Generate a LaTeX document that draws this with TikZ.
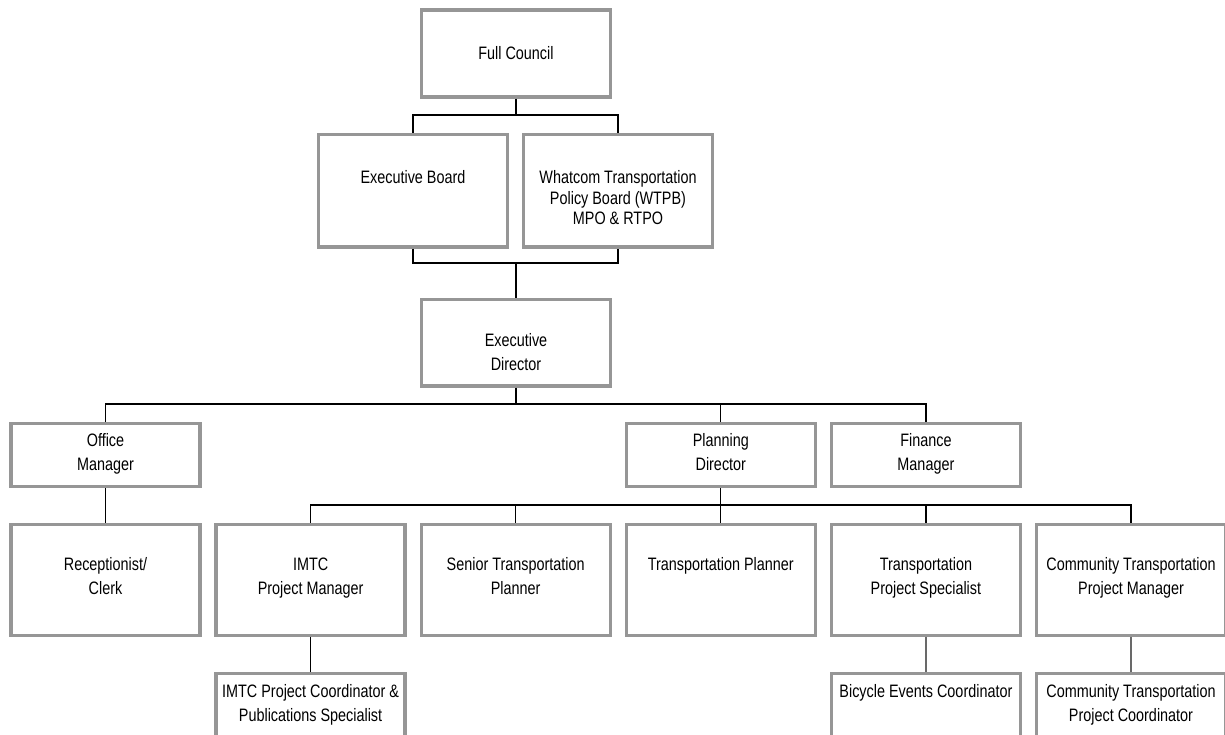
\documentclass[tikz,border=0pt]{standalone}
\usepackage{fontspec}
\setmainfont{Liberation Sans}[FakeStretch=0.8]
\usetikzlibrary{positioning}
\definecolor{boxgray}{RGB}{150,150,150}
\definecolor{linkgray}{RGB}{105,105,105}

\begin{document}
\begin{tikzpicture}[x=1pt, y=-1pt,
  unit/.style={draw=boxgray, line width=3.3pt, minimum width=189pt, inner sep=0pt},
  highbox/.style={unit, minimum height=111pt},
  lowbox/.style={unit, minimum height=63pt},
  lbl/.style={inner sep=0pt, align=center, font=\fontsize{18}{24}\selectfont},
  link/.style={line width=1.3pt},
  sublink/.style={line width=1.5pt, draw=linkgray}]

\useasboundingbox (0,0) rectangle (1225,734);

% boards
\node[unit, minimum height=87pt]    (fc)   at (516,53.5)   {};
\node[unit, minimum height=112.5pt] (eb)   at (413,190.75) {};
\node[unit, minimum height=112.5pt] (wtpb) at (618,190.75) {};
\node[unit, minimum height=86.5pt]  (ed)   at (516,342.75) {};

% managers
\node[lowbox] (office) at (105.5,455.2) {};
\node[lowbox] (plan)   at (720.8,455.2) {};
\node[lowbox] (fin)    at (925.9,455.2) {};

% staff
\node[highbox] (recep)  at (105.5,579.8)  {};
\node[highbox] (imtc)   at (310.6,579.8)  {};
\node[highbox] (senior) at (515.7,579.8)  {};
\node[highbox] (tplan)  at (720.8,579.8)  {};
\node[highbox] (tps)    at (925.9,579.8)  {};
\node[highbox] (ctpm)   at (1131,579.8)   {};

\node[highbox, anchor=north] (imtcc) at (310.6,671.7) {};
\node[highbox, anchor=north] (bike)  at (925.9,671.7) {};
\node[highbox, anchor=north] (ctpc)  at (1131,671.7)  {};

% texts
\node[lbl, below=38pt of fc.north]   (fc-t)   {Full Council};
\node[lbl, below=37.5pt of eb.north] (eb-t)   {Executive Board};
\node[lbl, below=37.5pt of wtpb.north, font=\fontsize{18}{20.5}\selectfont] (wtpb-t)
  {Whatcom Transportation\\Policy Board (WTPB)\\MPO \& RTPO};
\node[lbl, below=35.5pt of ed.north] (ed-t)   {Executive\\Director};

\node[lbl, below=11.3pt of office.north] (office-t) {Office\\Manager};
\node[lbl, below=11.3pt of plan.north]   (plan-t)   {Planning\\Director};
\node[lbl, below=11.3pt of fin.north]    (fin-t)    {Finance\\Manager};

\node[lbl, below=34.7pt of recep.north]  (recep-t)  {Receptionist/\\Clerk};
\node[lbl, below=34.7pt of imtc.north]   (imtc-t)   {IMTC\\Project Manager};
\node[lbl, below=34.7pt of senior.north] (senior-t) {Senior Transportation\\Planner};
\node[lbl, below=34.7pt of tplan.north]  (tplan-t)  {Transportation Planner};
\node[lbl, below=34.7pt of tps.north]    (tps-t)    {Transportation\\Project Specialist};
\node[lbl, below=34.7pt of ctpm.north]   (ctpm-t)   {Community Transportation\\Project Manager};

\node[lbl, below=12.3pt of imtcc.north] (imtcc-t) {IMTC Project Coordinator \&\\Publications Specialist};
\node[lbl, below=12.3pt of bike.north]  (bike-t)  {Bicycle Events Coordinator};
\node[lbl, below=12.3pt of ctpc.north]  (ctpc-t)  {Community Transportation\\Project Coordinator};

% connectors
\coordinate (bar1) at (516,115);
\coordinate (bar2) at (516,263);
\coordinate (bar3) at (516,404);
\coordinate (bar4) at (720.8,505);

\draw[link] (fc.south) -- (bar1);
\draw[link] (eb.north) |- (bar1) -| (wtpb.north);
\draw[link] (eb.south) |- (bar2) -| (wtpb.south);
\draw[link] (bar2) -- (ed.north);

\draw[link] (ed.south) -- (bar3);
\draw[link] (office.north) |- (bar3) -| (fin.north);
\draw[link] (bar3) -| (plan.north);
\draw[link] (office.south) -- (recep.north);

\draw[link] (plan.south) -- (tplan.north);
\draw[link] (imtc.north) |- (bar4) -| (ctpm.north);
\draw[link] (bar4) -| (senior.north);
\draw[link] (bar4) -| (tps.north);

\draw[link] (imtc.south) -- (imtcc.north);
\draw[sublink] (tps.south) -- (bike.north);
\draw[sublink] (ctpm.south) -- (ctpc.north);

\end{tikzpicture}
\end{document}
